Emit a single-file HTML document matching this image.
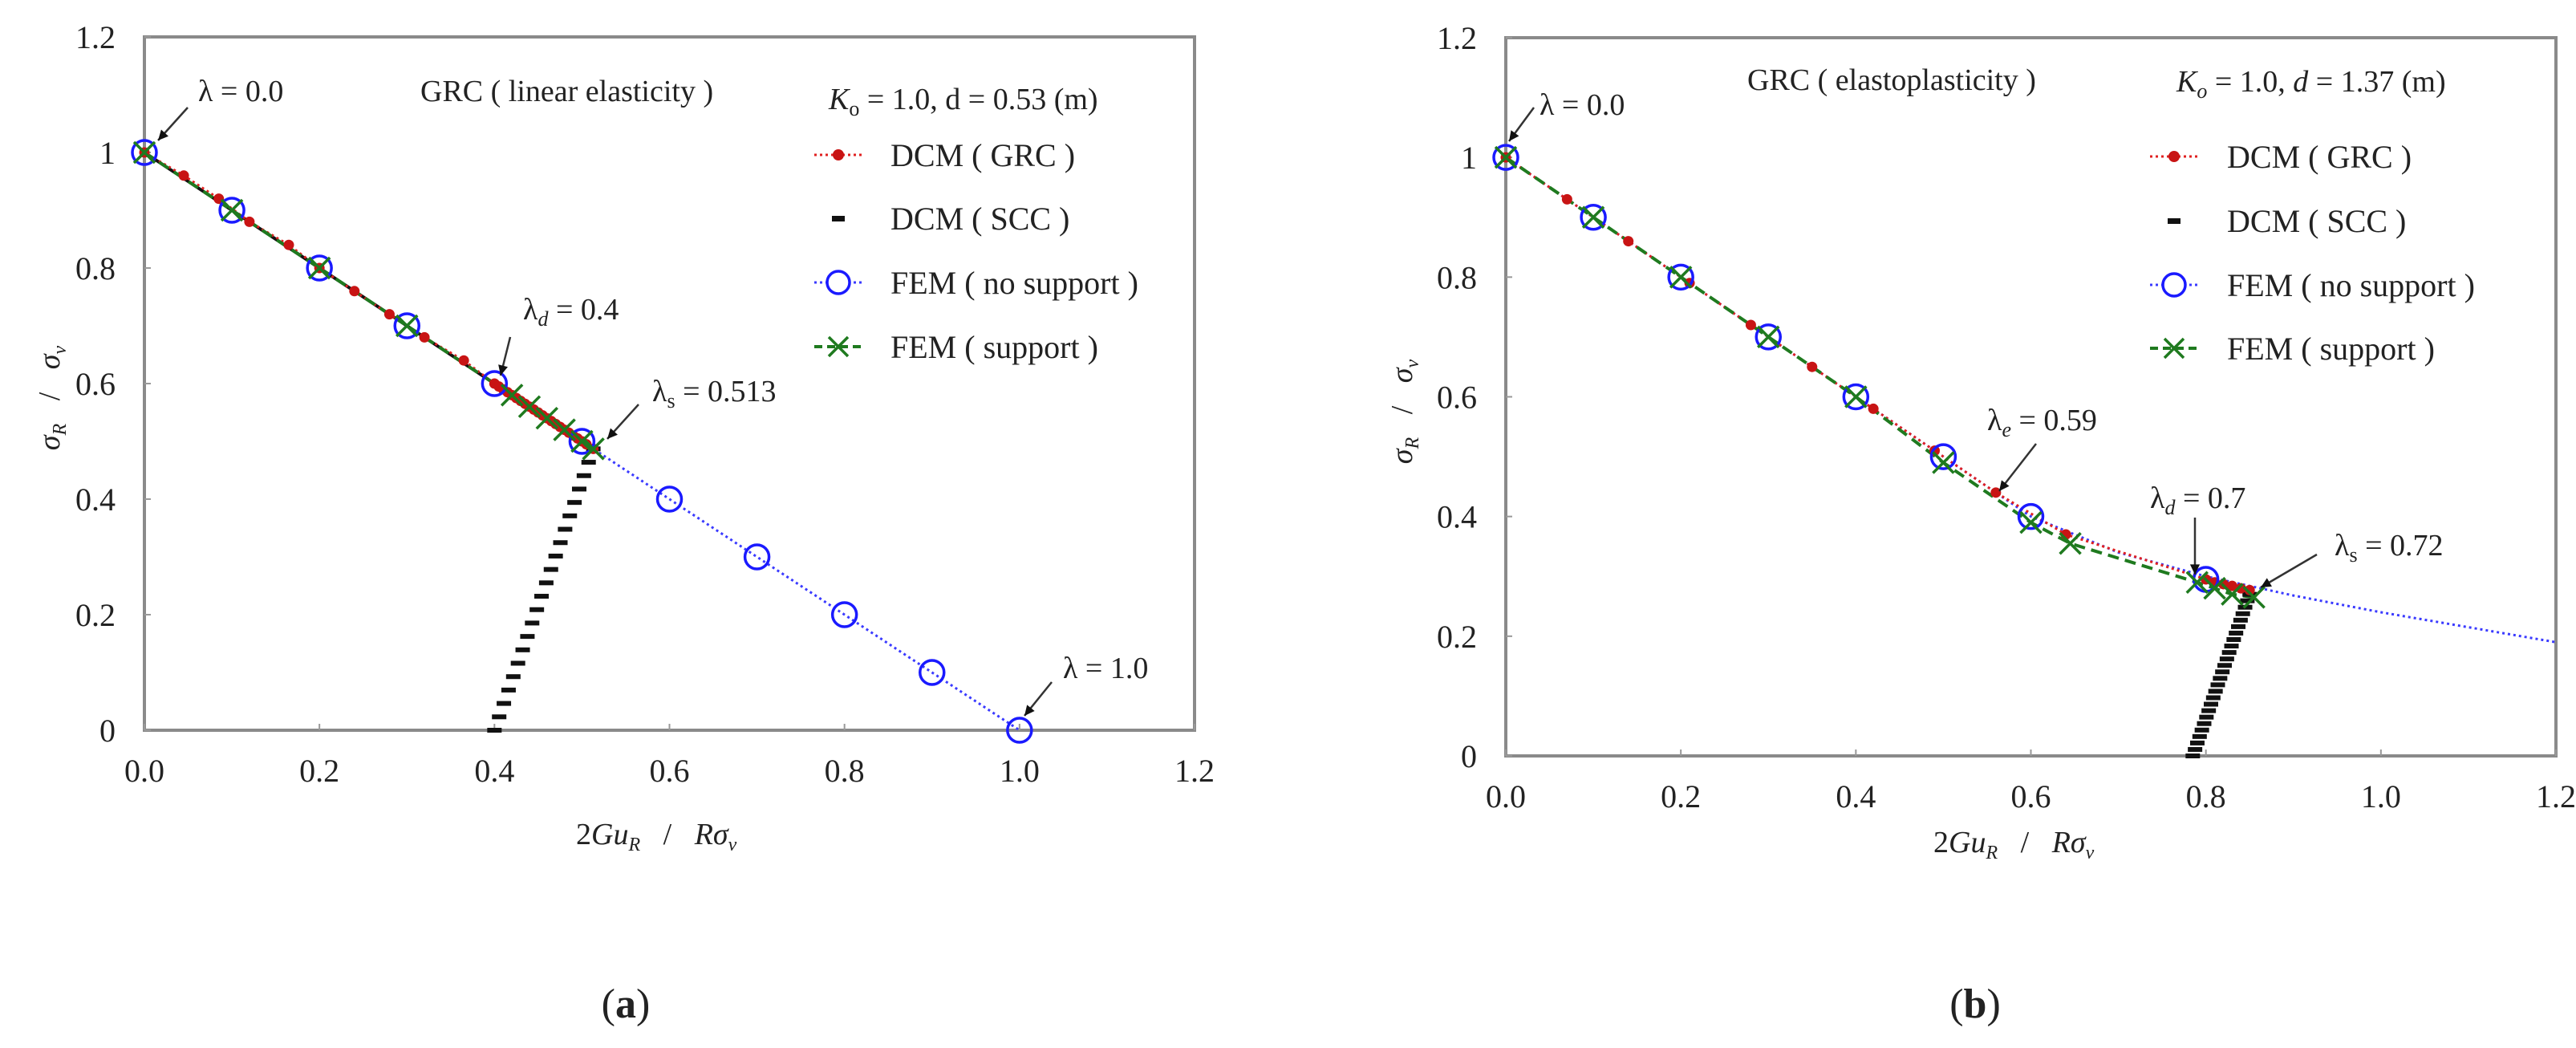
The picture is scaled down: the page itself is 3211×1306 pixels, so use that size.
<!DOCTYPE html>
<html><head><meta charset="utf-8">
<style>
html,body{margin:0;padding:0;background:#fff;}
svg{display:block;}
text{font-family:"Liberation Serif",serif;fill:#222;white-space:pre;}
</style></head>
<body>
<svg id="fig" width="3211" height="1306" viewBox="0 0 3211 1306" xmlns="http://www.w3.org/2000/svg">
<g id="chartA"></g>
<g id="chartB"></g>
<text x="780" y="1268" font-size="52" text-anchor="middle">(<tspan font-weight="bold">a</tspan>)</text>
<text x="2462" y="1268" font-size="52" text-anchor="middle">(<tspan font-weight="bold">b</tspan>)</text>
</svg>
<script>
// ---- Chart A data ----
const xTicks = [0.0, 0.2, 0.4, 0.6, 0.8, 1.0, 1.2];
const xTickLabels = ["0.0","0.2","0.4","0.6","0.8","1.0","1.2"];
const yTicks = [0, 0.2, 0.4, 0.6, 0.8, 1, 1.2];
const yTickLabels = ["0","0.2","0.4","0.6","0.8","1","1.2"];

const aGrcX = [0,0.045,0.085,0.12,0.165,0.2,0.24,0.28,0.32,0.365,0.4,0.405,0.41,0.415,0.42,0.425,0.43,0.435,0.44,0.445,0.45,0.455,0.46,0.465,0.47,0.475,0.48,0.485,0.49,0.495,0.5,0.505,0.513];
const aGrcY = [1,0.96,0.92,0.88,0.84,0.8,0.76,0.72,0.68,0.64,0.6,0.595,0.59,0.585,0.58,0.575,0.57,0.565,0.56,0.555,0.55,0.545,0.54,0.535,0.53,0.525,0.52,0.515,0.51,0.505,0.5,0.495,0.487];
const aNoSupX = [0,0.1,0.2,0.3,0.4,0.5,0.6,0.7,0.8,0.9,1.0];
const aNoSupY = [1,0.9,0.8,0.7,0.6,0.5,0.4,0.3,0.2,0.1,0];
const aSupX = [0,0.1,0.2,0.3,0.42,0.44,0.46,0.48,0.5,0.513];
const aSupY = [1,0.9,0.8,0.7,0.58,0.56,0.54,0.52,0.5,0.487];
const aSccX = [0.4,0.513];
const aSccY = [0,0.487];

// ---- Chart B data ----
const bGrcX = [0,0.07,0.14,0.21,0.28,0.35,0.42,0.49,0.56,0.64,0.8,0.81,0.82,0.83,0.84,0.85];
const bGrcY = [1,0.93,0.86,0.79,0.72,0.65,0.58,0.51,0.44,0.37,0.295,0.29,0.287,0.284,0.28,0.277];
const bNoSupX = [0,0.1,0.2,0.3,0.4,0.5,0.6,0.8];
const bNoSupY = [1,0.9,0.8,0.7,0.6,0.5,0.4,0.295];
const bLineX = [0,0.1,0.2,0.3,0.4,0.5,0.6,0.7,0.8,0.9,1.0,1.1,1.2];
const bLineY = [1,0.9,0.8,0.7,0.6,0.5,0.4,0.34,0.3,0.268,0.24,0.215,0.19];
const bSupX = [0,0.1,0.2,0.3,0.4,0.5,0.6,0.645,0.79,0.81,0.83,0.855];
const bSupY = [1,0.9,0.8,0.7,0.6,0.49,0.39,0.355,0.29,0.28,0.27,0.265];
const bSccX = [0.785,0.85];
const bSccY = [0,0.27];

const NS="http://www.w3.org/2000/svg";
function mk(parent, tag, attrs){
  const e=document.createElementNS(NS,tag);
  for(const k in attrs) e.setAttribute(k,attrs[k]);
  parent.appendChild(e); return e;
}

function drawChart(g, cfg){
  const sx=v=>cfg.x0+(v/1.2)*(cfg.x1-cfg.x0);
  const sy=v=>cfg.y0-(v/1.2)*(cfg.y0-cfg.y1);
  const fr=mk(g,'rect',{x:cfg.x0,y:cfg.y1,width:cfg.x1-cfg.x0,height:cfg.y0-cfg.y1,fill:'none',stroke:'#8a8a8a','stroke-width':4});
  
  
  xTicks.forEach((t,i)=>{
    const l=mk(g,'line',{x1:sx(t),x2:sx(t),y1:cfg.y0,y2:cfg.y0-8,stroke:'#999','stroke-width':2});
    
    
    const tx=mk(g,'text',{x:sx(t),y:cfg.y0+64,'font-size':40,'text-anchor':'middle'});
    tx.textContent=xTickLabels[i];
    
    
  });
  yTicks.forEach((t,i)=>{
    const l=mk(g,'line',{x1:cfg.x0,x2:cfg.x0+8,y1:sy(t),y2:sy(t),stroke:'#999','stroke-width':2});
    
    
    const tx=mk(g,'text',{x:cfg.x0-36,y:sy(t)+14,'font-size':40,'text-anchor':'end'});
    tx.textContent=yTickLabels[i];
    
    
  });
  const pts=(X,Y)=>X.map((v,i)=>sx(v)+','+sy(Y[i])).join(' ');
  const bl=mk(g,'polyline',{points:pts(cfg.blueX,cfg.blueY),fill:'none',stroke:'#3a3aff','stroke-width':3,'stroke-dasharray':'3 4'});
  
  
  if(cfg.blackLine){
    const k=mk(g,'polyline',{points:pts(cfg.blackLine[0],cfg.blackLine[1]),fill:'none',stroke:'#111','stroke-width':4});
    
    
  }
  const rl=mk(g,'polyline',{points:pts(cfg.grcX,cfg.grcY),fill:'none',stroke:'#e02020','stroke-width':3,'stroke-dasharray':'3 4'});
  
  
  const gl=mk(g,'polyline',{points:pts(cfg.supX,cfg.supY),fill:'none',stroke:'#1f7a1f','stroke-width':4,'stroke-dasharray':'14 8'});
  
  
  const ax=sx(cfg.sccX[0]),ay=sy(cfg.sccY[0]),bx=sx(cfg.sccX[1]),by=sy(cfg.sccY[1]);
  const n=Math.round((ay-by)/cfg.sccStep);
  for(let i=0;i<=n;i++){
    const f=i/n;
    const cx=ax+(bx-ax)*f, cy=ay+(by-ay)*f;
    const d=mk(g,'rect',{x:cx-9,y:cy-3,width:18,height:6,fill:'#111'});
    
    
  }
  cfg.grcX.forEach((v,i)=>{
    const c=mk(g,'circle',{cx:sx(v),cy:sy(cfg.grcY[i]),r:6.5,fill:'#c81414'});
    
    
  });
  cfg.nsX.forEach((v,i)=>{
    const c=mk(g,'circle',{cx:sx(v),cy:sy(cfg.nsY[i]),r:15,fill:'none',stroke:'#1a1aff','stroke-width':3.5});
    
    
  });
  cfg.supX.forEach((v,i)=>{
    const cx=sx(v),cy=sy(cfg.supY[i]),s=13;
    const p=mk(g,'path',{d:`M${cx-s},${cy-s}L${cx+s},${cy+s}M${cx-s},${cy+s}L${cx+s},${cy-s}`,stroke:'#1f7a1f','stroke-width':3.5,fill:'none'});
    
    
  });
}

function txt(g,x,y,html,size,name,anchor){
  const t=mk(g,'text',{x:x,y:y,'font-size':size||40,'text-anchor':anchor||'start'});
  t.innerHTML=html;
  
  
  return t;
}
function arrow(g,x1,y1,x2,y2,name){
  const l=mk(g,'line',{x1:x1,y1:y1,x2:x2,y2:y2,stroke:'#333','stroke-width':2.5});
  
  
  const a=Math.atan2(y2-y1,x2-x1),L=14,w=0.45;
  const p=mk(g,'polygon',{points:`${x2},${y2} ${x2-L*Math.cos(a-w)},${y2-L*Math.sin(a-w)} ${x2-L*Math.cos(a+w)},${y2-L*Math.sin(a+w)}`,fill:'#111'});
  
  
}
function legend(g,x,ys,tx){
  const labels=["DCM ( GRC )","DCM ( SCC )","FEM ( no support )","FEM ( support )"];
  let l=mk(g,'line',{x1:x-30,x2:x+30,y1:ys[0],y2:ys[0],stroke:'#e02020','stroke-width':3,'stroke-dasharray':'3 4'});
   
  let c=mk(g,'circle',{cx:x,cy:ys[0],r:7,fill:'#c81414'});
   
  let r=mk(g,'rect',{x:x-8,y:ys[1]-3,width:16,height:7,fill:'#111'});
   
  l=mk(g,'line',{x1:x-30,x2:x+30,y1:ys[2],y2:ys[2],stroke:'#3a3aff','stroke-width':3,'stroke-dasharray':'3 4'});
   
  c=mk(g,'circle',{cx:x,cy:ys[2],r:14,fill:'#fff',stroke:'#1a1aff','stroke-width':3.5});
   
  l=mk(g,'line',{x1:x-30,x2:x+30,y1:ys[3],y2:ys[3],stroke:'#1f7a1f','stroke-width':4,'stroke-dasharray':'10 6'});
   
  const s=12;
  const p=mk(g,'path',{d:`M${x-s},${ys[3]-s}L${x+s},${ys[3]+s}M${x-s},${ys[3]+s}L${x+s},${ys[3]-s}`,stroke:'#1f7a1f','stroke-width':3.5});
   
  labels.forEach((lb,i)=>{
    txt(g,tx,ys[i]+14,lb,40,'legend-entry');
  });
}

const gA=document.getElementById('chartA');
drawChart(gA,{x0:180,x1:1489,y0:910,y1:46,
  blueX:aNoSupX,blueY:aNoSupY,grcX:aGrcX,grcY:aGrcY,nsX:aNoSupX,nsY:aNoSupY,
  supX:aSupX,supY:aSupY,sccX:aSccX,sccY:aSccY,sccStep:17,
  blackLine:[[0,0.513],[1,0.487]]});
txt(gA,247,126,'λ = 0.0',38,'annotation-lambda-0');
arrow(gA,234,134,197,175,'arrow-lambda-0');
txt(gA,524,126,'GRC ( linear elasticity )',38,'chart-a-title');
txt(gA,1033,136,'<tspan font-style="italic">K</tspan><tspan font-size="26" dy="8">o</tspan><tspan dy="-8"> = 1.0, d = 0.53 (m)</tspan>',38,'chart-a-params');
txt(gA,652,398,'λ<tspan font-size="26" dy="8" font-style="italic">d</tspan><tspan dy="-8"> = 0.4</tspan>',38,'annotation-lambda-d');
arrow(gA,636,420,624,468,'arrow-lambda-d');
txt(gA,813,500,'λ<tspan font-size="26" dy="8">s</tspan><tspan dy="-8"> = 0.513</tspan>',38,'annotation-lambda-s');
arrow(gA,796,504,757,547,'arrow-lambda-s');
txt(gA,1325,845,'λ = 1.0',38,'annotation-lambda-1');
arrow(gA,1311,850,1277,892,'arrow-lambda-1');
legend(gA,1045,[193,272,352,432],1110);
txt(gA,718,1052,'2<tspan font-style="italic">Gu</tspan><tspan font-size="24" dy="8" font-style="italic">R</tspan><tspan dy="-8">   /   </tspan><tspan font-style="italic">Rσ</tspan><tspan font-size="24" dy="8" font-style="italic">v</tspan>',38,'x-axis-title');
const ytA=txt(gA,0,0,'<tspan font-style="italic">σ</tspan><tspan font-size="24" dy="8" font-style="italic">R</tspan><tspan dy="-8">   /   </tspan><tspan font-style="italic">σ</tspan><tspan font-size="24" dy="8" font-style="italic">v</tspan>',38,'y-axis-title','middle');
ytA.setAttribute('transform','translate(74,496) rotate(-90)');

const gB=document.getElementById('chartB');
drawChart(gB,{x0:1877,x1:3186,y0:942,y1:47,
  blueX:bLineX,blueY:bLineY,grcX:bGrcX,grcY:bGrcY,nsX:bNoSupX,nsY:bNoSupY,
  supX:bSupX,supY:bSupY,sccX:bSccX,sccY:bSccY,sccStep:8,blackLine:null});
txt(gB,1919,143,'λ = 0.0',38,'annotation-lambda-0');
arrow(gB,1912,134,1881,176,'arrow-lambda-0');
txt(gB,2178,112,'GRC ( elastoplasticity )',38,'chart-b-title');
txt(gB,2713,114,'<tspan font-style="italic">K</tspan><tspan font-size="26" dy="8" font-style="italic">o</tspan><tspan dy="-8"> = 1.0, </tspan><tspan font-style="italic">d</tspan> = 1.37 (m)',38,'chart-b-params');
legend(gB,2710,[195,275,355,434],2776);
txt(gB,2477,536,'λ<tspan font-size="26" dy="8" font-style="italic">e</tspan><tspan dy="-8"> = 0.59</tspan>',38,'annotation-lambda-e');
arrow(gB,2538,553,2492,612,'arrow-lambda-e');
txt(gB,2680,633,'λ<tspan font-size="26" dy="8" font-style="italic">d</tspan><tspan dy="-8"> = 0.7</tspan>',38,'annotation-lambda-d');
arrow(gB,2736,645,2736,716,'arrow-lambda-d');
txt(gB,2910,692,'λ<tspan font-size="26" dy="8">s</tspan><tspan dy="-8"> = 0.72</tspan>',38,'annotation-lambda-s');
arrow(gB,2888,691,2818,732,'arrow-lambda-s');
txt(gB,2410,1062,'2<tspan font-style="italic">Gu</tspan><tspan font-size="24" dy="8" font-style="italic">R</tspan><tspan dy="-8">   /   </tspan><tspan font-style="italic">Rσ</tspan><tspan font-size="24" dy="8" font-style="italic">v</tspan>',38,'x-axis-title');
const ytB=txt(gB,0,0,'<tspan font-style="italic">σ</tspan><tspan font-size="24" dy="8" font-style="italic">R</tspan><tspan dy="-8">   /   </tspan><tspan font-style="italic">σ</tspan><tspan font-size="24" dy="8" font-style="italic">v</tspan>',38,'y-axis-title','middle');
ytB.setAttribute('transform','translate(1760,513) rotate(-90)');
</script>
</body></html>
